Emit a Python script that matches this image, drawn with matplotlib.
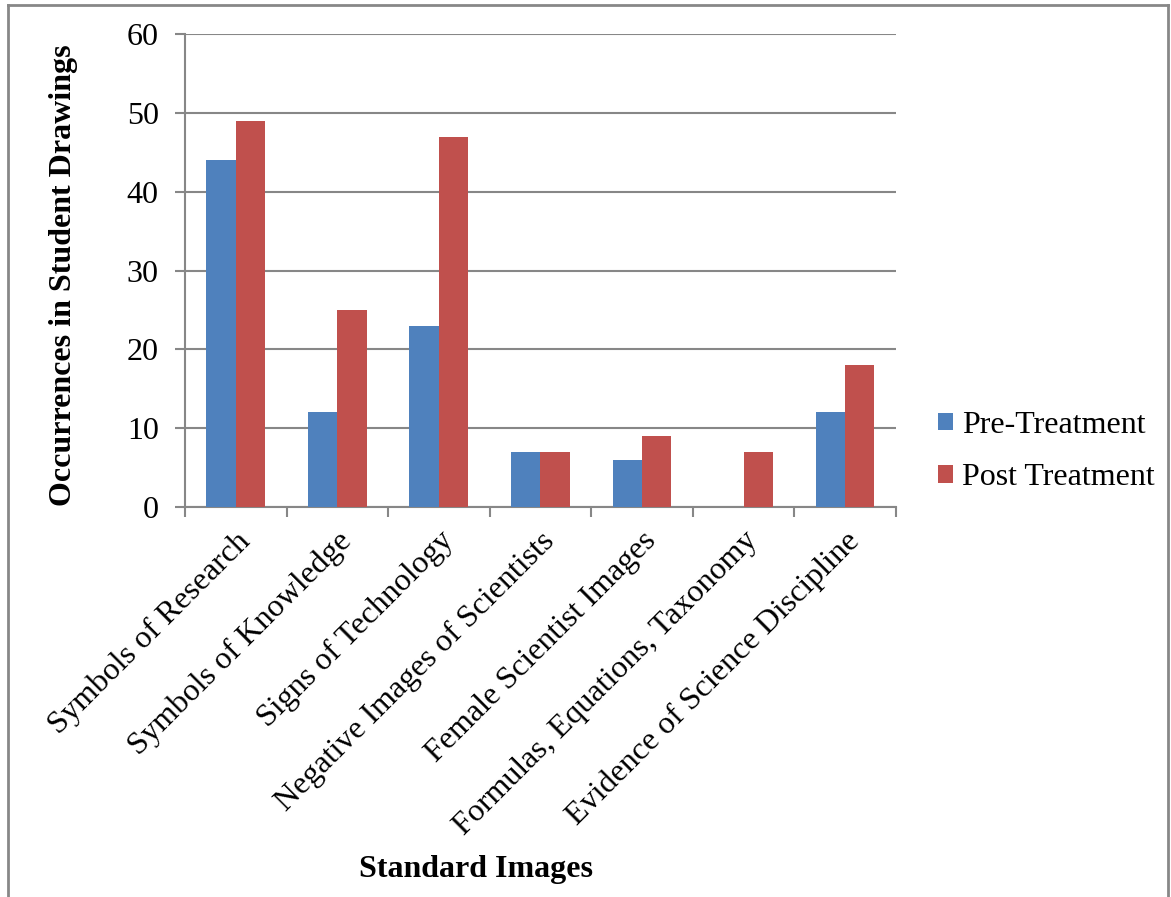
import numpy as np
import matplotlib.pyplot as plt
from matplotlib.lines import Line2D

# Data
categories = ["Symbols of Research", "Symbols of Knowledge", "Signs of Technology",
              "Negative Images of Scientists", "Female Scientist Images",
              "Formulas, Equations, Taxonomy", "Evidence of Science Discipline"]
pre_treatment = [44, 12, 23, 7, 6, 0, 12]
post_treatment = [49, 25, 47, 7, 9, 7, 18]

plt.rcParams['font.family'] = ['Liberation Serif', 'DejaVu Serif']
fs = 23

fig = plt.figure(figsize=(11.71, 8.97), dpi=100)
ax = fig.add_axes([0.158, 0.4348, 0.607, 0.527])

x = np.arange(len(categories))
w = 0.29
ax.bar(x - w / 2, pre_treatment, w, color='#4F81BD', label='Pre-Treatment', zorder=3)
ax.bar(x + w / 2, post_treatment, w, color='#C0504D', label='Post Treatment', zorder=3)

grid_c = '#878787'
ax.set_ylim(0, 60)
ax.set_xlim(-0.5, len(categories) - 0.5)
ax.set_yticks(range(0, 61, 10))
ax.yaxis.grid(True, color=grid_c, linewidth=1.5, zorder=0)
ax.tick_params(axis='y', length=7, width=1.5, color=grid_c, pad=12, labelsize=fs)

ax.set_xticks(x)
ax.set_xticklabels(categories, rotation=45, ha='right', va='top',
                   rotation_mode='anchor', fontsize=fs)
ax.tick_params(axis='x', which='major', length=0, pad=14)
ax.set_xticks(np.arange(-0.5, len(categories)), minor=True)
ax.tick_params(axis='x', which='minor', length=7, width=1.5, color=grid_c)

for side in ['top', 'right']:
    ax.spines[side].set_visible(False)
for side in ['left', 'bottom']:
    ax.spines[side].set_color(grid_c)
    ax.spines[side].set_linewidth(1.5)

ax.set_ylabel("Occurrences in Student Drawings", fontsize=fs, fontweight='bold')
ax.yaxis.set_label_coords(-0.15, 0.49)
ax.set_xlabel("Standard Images", fontsize=fs, fontweight='bold')
ax.xaxis.set_label_coords(0.409, -0.736)

leg = ax.legend(loc='center left', bbox_to_anchor=(1.019, 0.117), frameon=False,
                fontsize=fs, handlelength=0.47, handleheight=0.47, handletextpad=0.28,
                labelspacing=0.74)

# outer frame (left, top, right)
fx0, fx1, fy = 8 / 1171, 1168 / 1171, 1 - 5 / 897
for xs, ys in [([fx0, fx0], [0, fy]), ([fx0, fx1], [fy, fy]), ([fx1, fx1], [fy, 0])]:
    fig.add_artist(Line2D(xs, ys, transform=fig.transFigure, color=grid_c, linewidth=2))

fig.savefig('out.png', dpi=100)
